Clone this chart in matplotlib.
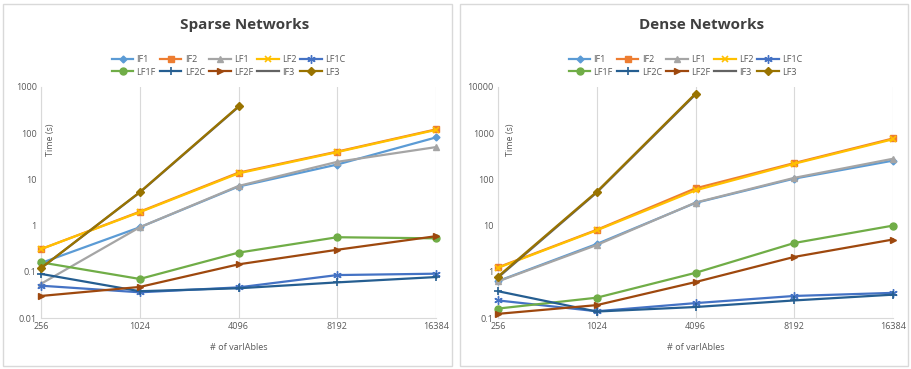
import matplotlib
matplotlib.use("Agg")
import matplotlib.pyplot as plt
from matplotlib.patches import Rectangle
from matplotlib.ticker import FixedLocator, FixedFormatter, NullLocator

plt.rcParams['font.family'] = ['Open Sans', 'DejaVu Sans']

variables = ["256", "1024", "4096", "8192", "16384"]
series_names = ["IF1", "IF2", "LF1", "LF2", "LF1C", "LF1F", "LF2C", "LF2F", "IF3", "LF3"]

# Sparse network timings (seconds)
sparse_IF1 = [0.155, 0.92, 7.0, 21, 81]
sparse_IF2 = [0.31, 2.0, 14, 40, 121]
sparse_LF1 = [0.055, 0.92, 7.2, 24, 50]
sparse_LF2 = [0.31, 1.95, 13.5, 39, 118]
sparse_LF1C = [0.05, 0.036, 0.046, 0.085, 0.091]
sparse_LF1F = [0.16, 0.07, 0.26, 0.56, 0.53]
sparse_LF2C = [0.09, 0.038, 0.044, 0.059, 0.077]
sparse_LF2F = [0.03, 0.047, 0.145, 0.30, 0.59]
sparse_IF3 = [0.12, 5.2, 370]
sparse_LF3 = [0.12, 5.3, 380]

# Dense network timings (seconds)
dense_IF1 = [0.63, 4.0, 31, 104, 255]
dense_IF2 = [1.25, 8.1, 64, 226, 770]
dense_LF1 = [0.62, 3.8, 31.5, 108, 280]
dense_LF2 = [1.22, 7.9, 58, 218, 740]
dense_LF1C = [0.24, 0.14, 0.21, 0.30, 0.35]
dense_LF1F = [0.16, 0.275, 0.95, 4.2, 10]
dense_LF2C = [0.38, 0.138, 0.173, 0.24, 0.32]
dense_LF2F = [0.123, 0.19, 0.6, 2.1, 5.0]
dense_IF3 = [0.75, 52, 6900]
dense_LF3 = [0.79, 54, 7200]

sparse = [sparse_IF1, sparse_IF2, sparse_LF1, sparse_LF2, sparse_LF1C,
          sparse_LF1F, sparse_LF2C, sparse_LF2F, sparse_IF3, sparse_LF3]
dense = [dense_IF1, dense_IF2, dense_LF1, dense_LF2, dense_LF1C,
         dense_LF1F, dense_LF2C, dense_LF2F, dense_IF3, dense_LF3]

styles = {
    "IF1": dict(color="#5B9BD5", marker="D", ms=3.5),
    "IF2": dict(color="#ED7D31", marker="s", ms=5),
    "LF1": dict(color="#A5A5A5", marker="^", ms=5),
    "LF2": dict(color="#FFC000", marker="x", ms=5, mew=1.2),
    "LF1C": dict(color="#4472C4", marker=(6, 2, 0), ms=6, mew=1.0),
    "LF1F": dict(color="#70AD47", marker="o", ms=5),
    "LF2C": dict(color="#255E91", marker="+", ms=6, mew=1.2),
    "LF2F": dict(color="#9E480E", marker=">", ms=5),
    "IF3": dict(color="#636363", marker="None", ms=0),
    "LF3": dict(color="#997300", marker="D", ms=4),
}

fig = plt.figure(figsize=(9.11, 3.69), dpi=100)

# panel frames
for x0, x1 in [(3, 452), (460, 908)]:
    fig.patches.append(Rectangle((x0 / 911, 3 / 369), (x1 - x0) / 911, 362 / 369,
                                 transform=fig.transFigure, fill=False,
                                 edgecolor="#D9D9D9", linewidth=1.0))

panels = [
    dict(title="Sparse Networks", data=sparse, left=41, right=436,
         ylim=(0.01, 1000), yticks=[0.01, 0.1, 1, 10, 100, 1000],
         ylabels=["0.01", "0.1", "1", "10", "100", "1000"], ylab_x=51),
    dict(title="Dense Networks", data=dense, left=498, right=893,
         ylim=(0.1, 10000), yticks=[0.1, 1, 10, 100, 1000, 10000],
         ylabels=["0.1", "1", "10", "100", "1000", "10000"], ylab_x=510),
]

top_px, bot_px = 87, 318
for p in panels:
    ax = fig.add_axes([p["left"] / 911, 1 - bot_px / 369,
                       (p["right"] - p["left"]) / 911, (bot_px - top_px) / 369])
    ax.set_yscale("log")
    ax.set_ylim(*p["ylim"])
    ax.set_xlim(0, len(variables) - 1)
    handles = []
    for name, vals in zip(series_names, p["data"]):
        st = styles[name]
        xs = list(range(len(vals)))
        (h,) = ax.plot(xs, vals, color=st["color"], lw=1.6, marker=st["marker"],
                       ms=st["ms"], mew=st.get("mew", 1.0), mfc=st["color"],
                       mec=st["color"], clip_on=False, label=name, zorder=3)
        handles.append(h)
    ax.set_xticks(range(len(variables)))
    ax.set_xticklabels(variables)
    ax.yaxis.set_major_locator(FixedLocator(p["yticks"]))
    ax.yaxis.set_major_formatter(FixedFormatter(p["ylabels"]))
    ax.yaxis.set_minor_locator(NullLocator())
    ax.tick_params(axis="both", length=0, labelsize=6.5, colors="#595959", pad=3)
    ax.grid(axis="x", color="#D9D9D9", lw=0.8)
    ax.set_axisbelow(True)
    for s in ["top", "right"]:
        ax.spines[s].set_visible(False)
    for s in ["left", "bottom"]:
        ax.spines[s].set_color("#D9D9D9")
        ax.spines[s].set_linewidth(0.8)
    cx = (p["left"] + p["right"]) / 2 / 911
    fig.text(cx + 6 / 911, 1 - 25 / 369, p["title"], ha="center", va="center",
             fontsize=11, fontweight="bold", color="#404040")
    fig.text(p["ylab_x"] / 911, 1 - 140 / 369, "Time (s)", rotation=90,
             ha="center", va="center", fontsize=6.5, color="#595959")
    fig.text(cx, 1 - 347 / 369, "# of varIAbles", ha="center", va="center",
             fontsize=6.5, color="#595959")
    # legend fills column-wise; interleave so entries read row by row
    ncol = 5
    order = [r * ncol + c for c in range(ncol) for r in range(2)]
    fig.legend(handles=[handles[i] for i in order], loc="center", ncol=ncol,
               bbox_to_anchor=(cx - 10 / 911, 1 - 66 / 369),
               frameon=False, fontsize=6.5, handlelength=2.4,
               columnspacing=0.45, handletextpad=0.35, labelspacing=0.35,
               labelcolor="#595959", borderpad=0)

fig.savefig("out.png", dpi=100)
